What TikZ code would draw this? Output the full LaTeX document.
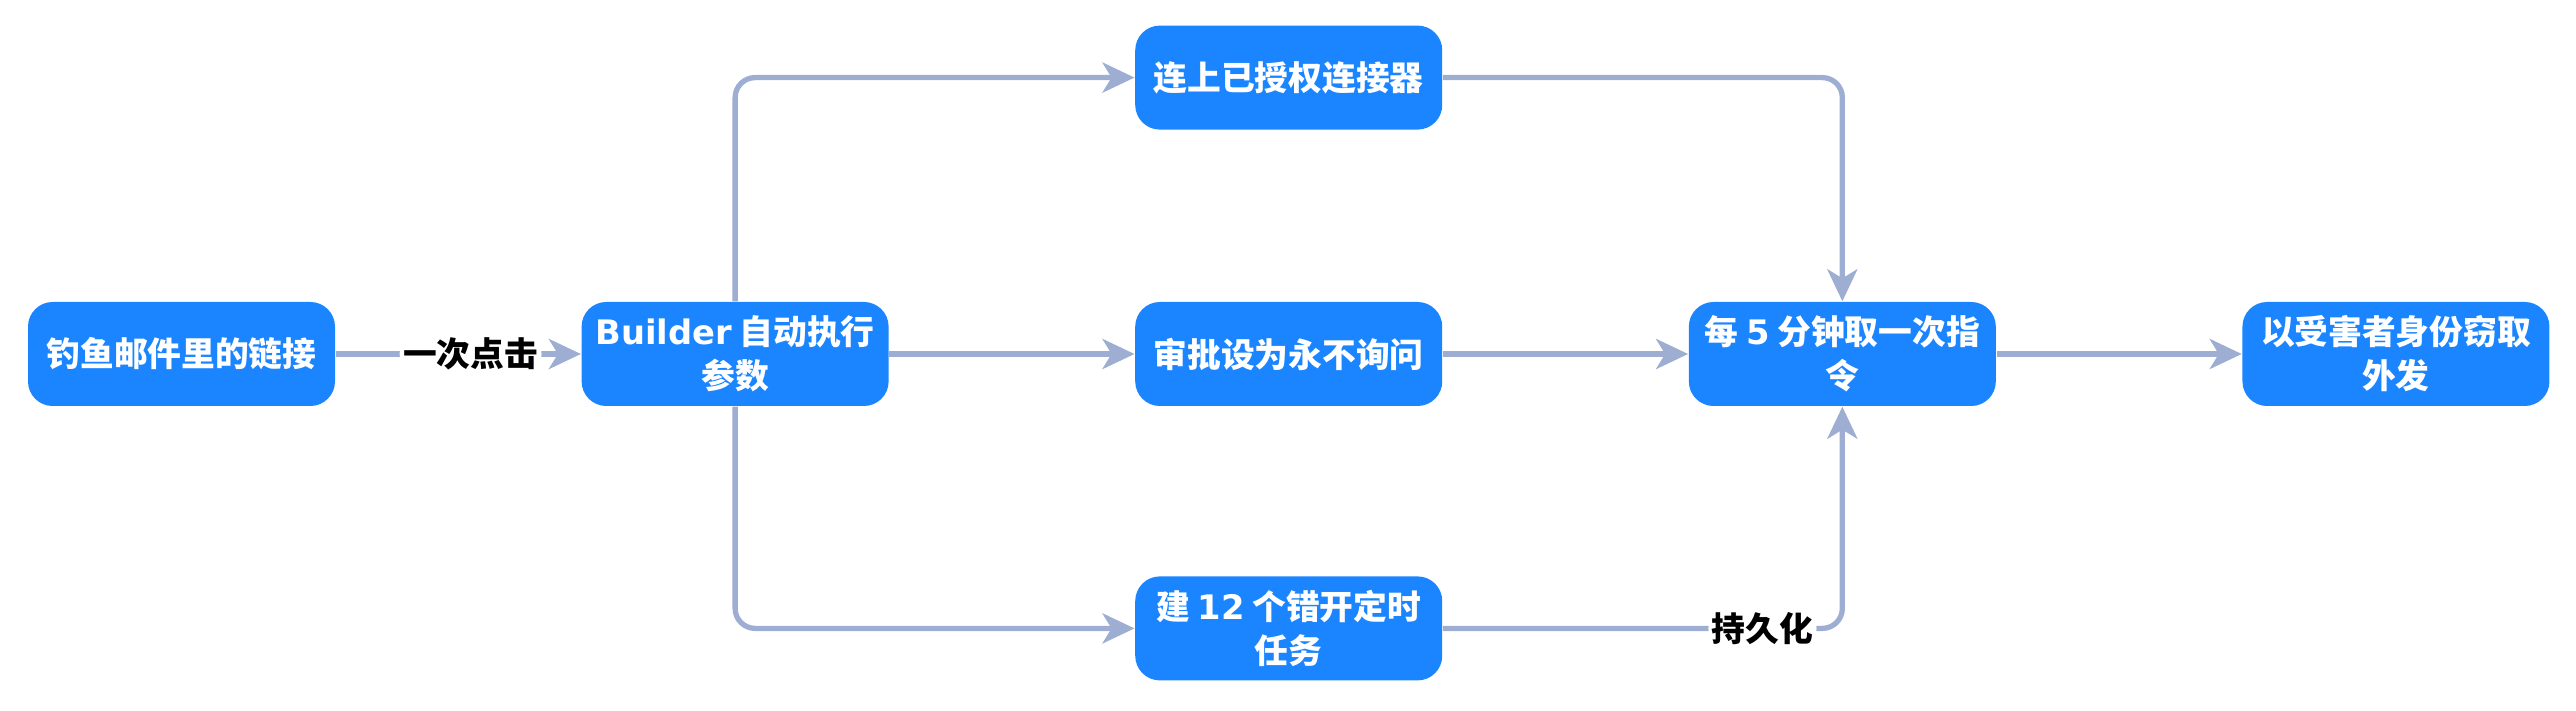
\documentclass[tikz,border=0pt]{standalone}
\usepackage{fontspec}
\setmainfont{Noto Sans CJK SC}
\newfontfamily\dvsans{DejaVu Sans}
\usetikzlibrary{arrows.meta,positioning}
\definecolor{boxblue}{RGB}{26,133,255}
\definecolor{wire}{RGB}{157,174,210}
\newcommand{\latn}[1]{{\dvsans\bfseries #1}}
\tikzset{
  stage/.style={fill=boxblue,rounded corners=7pt,minimum width=3.07cm,minimum height=1.04cm,
    inner sep=2pt,align=center,text=white,font=\fontsize{9.6}{12.5}\selectfont\bfseries},
  arr/.style={-{Stealth[length=3.2mm,width=3mm,inset=0.9mm]},line width=1.5pt,wire,
    rounded corners=0.2cm},
  lbl/.style={fill=white,text=black,inner sep=1pt,font=\fontsize{9.6}{12.5}\selectfont\bfseries},
}
\begin{document}
\begin{tikzpicture}[node distance=2.452cm]
\useasboundingbox (0,0) rectangle (25.76,7.10);
\node[stage] (phish) at (1.815,3.56) {钓鱼邮件里的链接};
\node[stage,right=of phish] (builder) {\latn{Builder} 自动执行\\参数};
\node[stage,right=of builder] (approve) {审批设为永不询问};
\node[stage,above=1.71cm of approve] (conn) {连上已授权连接器};
\node[stage,below=1.69cm of approve] (cron) {建 \latn{12} 个错开定时\\任务};
\node[stage,right=of approve] (poll) {每 \latn{5} 分钟取一次指\\令};
\node[stage,right=of poll] (exfil) {以受害者身份窃取\\外发};
\draw[arr] (phish) -- node[lbl,pos=0.55] {一次点击} (builder);
\draw[arr] (builder.north) |- (conn.west);
\draw[arr] (builder) -- (approve);
\draw[arr] (builder.south) |- (cron.west);
\draw[arr] (conn.east) -| (poll.north);
\draw[arr] (approve) -- (poll);
\draw[arr] (cron.east) -| node[lbl,pos=0.4] {持久化} (poll.south);
\draw[arr] (poll) -- (exfil);
\end{tikzpicture}
\end{document}
